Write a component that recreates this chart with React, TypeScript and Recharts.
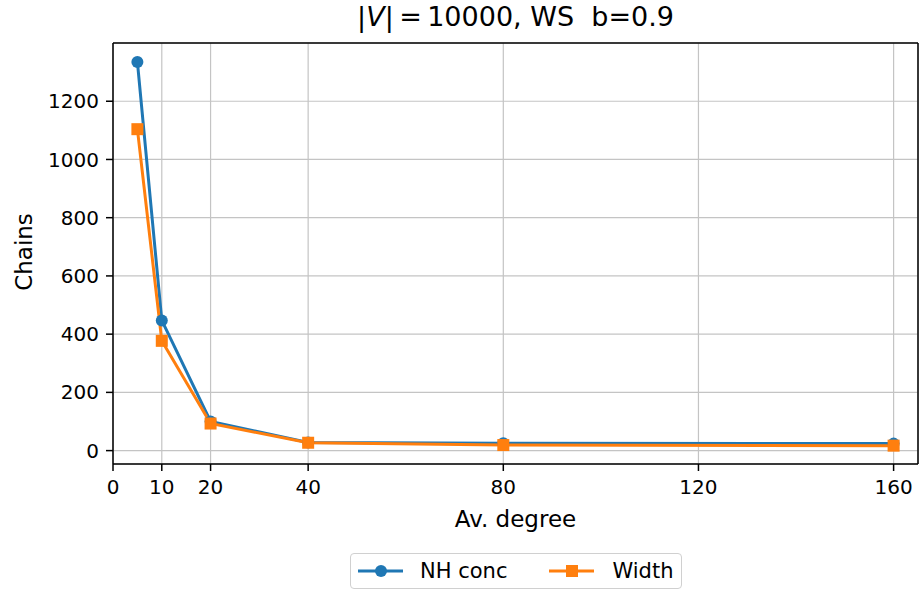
import { LineChart, Line, XAxis, YAxis, CartesianGrid, Legend, ReferenceLine } from "recharts";

const degrees = [5, 10, 20, 40, 80, 160];
const nhConc = [1335, 447, 100, 28, 25, 24];
const widthChains = [1104, 377, 93, 27, 19, 17];
const xTicks = [0, 10, 20, 40, 80, 120, 160];
const yTicks = [0, 200, 400, 600, 800, 1000, 1200];

const data = degrees.map((d, i) => ({ degree: d, nh: nhConc[i], width: widthChains[i] }));

const BLUE = "#1f77b4";
const ORANGE = "#ff7f0e";
const FONT = "DejaVu Sans, sans-serif";

const CircleDot = (props: any) => {
  const { cx, cy } = props;
  return <circle cx={cx} cy={cy} r={6} fill={BLUE} />;
};

const SquareDot = (props: any) => {
  const { cx, cy } = props;
  return <rect x={cx - 6} y={cy - 6} width={12} height={12} fill={ORANGE} />;
};

const LegendBox = () => (
  <div
    style={{
      width: 330,
      height: 34,
      border: "1px solid #d0d0d0",
      borderRadius: 4,
      background: "#fff",
      display: "flex",
      alignItems: "center",
      fontFamily: FONT,
      fontSize: 21,
      color: "#000",
    }}
  >
    <svg width={50} height={20} style={{ marginLeft: 5 }}>
      <line x1={2} y1={10} x2={47} y2={10} stroke={BLUE} strokeWidth={3} />
      <circle cx={25} cy={10} r={6} fill={BLUE} />
    </svg>
    <span style={{ marginLeft: 14 }}>NH conc</span>
    <svg width={50} height={20} style={{ marginLeft: 40 }}>
      <line x1={2} y1={10} x2={47} y2={10} stroke={ORANGE} strokeWidth={3} />
      <rect x={19} y={4} width={12} height={12} fill={ORANGE} />
    </svg>
    <span style={{ marginLeft: 15 }}>Width</span>
  </div>
);

const XLabel = (props: any) => {
  const { viewBox } = props;
  return (
    <text x={viewBox.x + viewBox.width / 2} y={527} textAnchor="middle" fontFamily={FONT} fontSize={23} fill="#000">
      Av. degree
    </text>
  );
};

const YLabel = () => (
  <text
    x={32}
    y={252}
    transform="rotate(-90 32 252)"
    textAnchor="middle"
    fontFamily={FONT}
    fontSize={23}
    fill="#000"
  >
    Chains
  </text>
);

export default function App() {
  return (
    <div style={{ position: "absolute", left: 0, top: 0, width: 920, height: 590, background: "#fff" }}>
      <div
        style={{
          position: "absolute",
          left: 113,
          width: 805,
          top: 1,
          textAlign: "center",
          fontFamily: FONT,
          fontSize: 27,
          whiteSpace: "pre",
          color: "#000",
        }}
      >
        |<i>V</i>|{"\u2009"}={"\u2009"}10000, WS  b=0.9
      </div>
      <LineChart width={920} height={590} data={data} margin={{ top: 43, right: 2, left: 0, bottom: 0 }}>
        <CartesianGrid stroke="#c4c4c4" strokeWidth={1.2} />
        <XAxis
          dataKey="degree"
          type="number"
          domain={[0, 165]}
          ticks={xTicks}
          allowDataOverflow
          height={126}
          tickSize={7}
          tickMargin={9}
          tick={{ fontFamily: FONT, fontSize: 20, fill: "#000" }}
          tickLine={{ stroke: "#000", strokeWidth: 1.5 }}
          axisLine={{ stroke: "#000", strokeWidth: 1.5 }}
          label={<XLabel />}
        />
        <YAxis
          type="number"
          domain={[-46, 1400]}
          ticks={yTicks}
          allowDataOverflow
          width={113}
          tickSize={7}
          tickMargin={7}
          tick={{ fontFamily: FONT, fontSize: 20, fill: "#000" }}
          tickLine={{ stroke: "#000", strokeWidth: 1.5 }}
          axisLine={{ stroke: "#000", strokeWidth: 1.5 }}
          label={<YLabel />}
        />
        <ReferenceLine y={1400} stroke="#000" strokeWidth={1.5} />
        <ReferenceLine x={165} stroke="#000" strokeWidth={1.5} />
        <Line
          type="linear"
          dataKey="nh"
          name="NH conc"
          stroke={BLUE}
          strokeWidth={3}
          dot={<CircleDot />}
          isAnimationActive={false}
        />
        <Line
          type="linear"
          dataKey="width"
          name="Width"
          stroke={ORANGE}
          strokeWidth={3}
          dot={<SquareDot />}
          isAnimationActive={false}
        />
        <Legend
          layout="horizontal"
          verticalAlign="middle"
          align="center"
          content={<LegendBox />}
          wrapperStyle={{ position: "absolute", left: 350, top: 553, width: 332 }}
        />
      </LineChart>
    </div>
  );
}
